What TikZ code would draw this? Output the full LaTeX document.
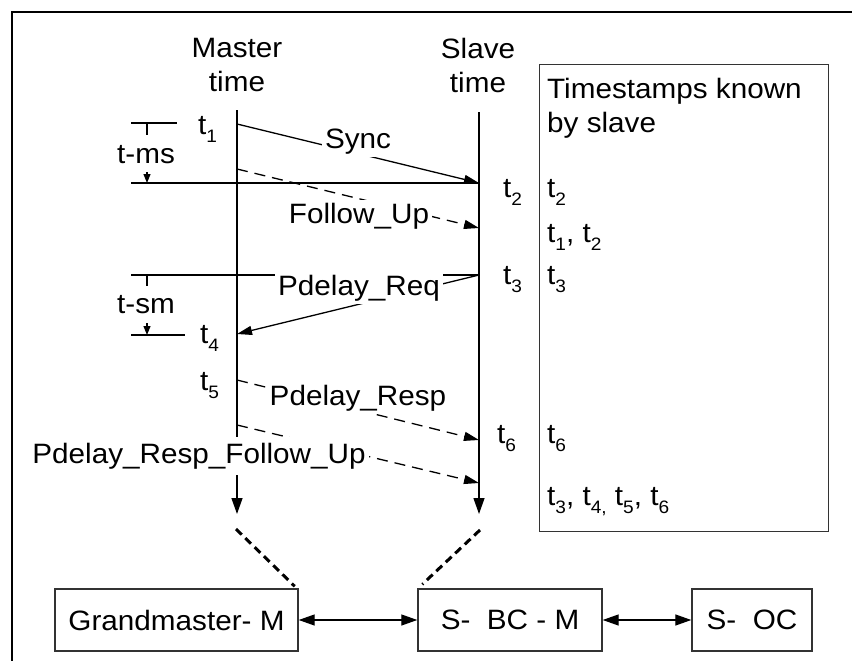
\documentclass[tikz,border=0pt]{standalone}
\usepackage{fontspec}
\setmainfont[FakeStretch=1.06]{Liberation Sans}
\usetikzlibrary{arrows.meta}
\newcommand\tsub[1]{\raisebox{-8pt}{\fontsize{18}{18}\selectfont #1}}
\begin{document}
\begin{tikzpicture}[x=1pt,y=-1pt,
  every node/.style={font=\fontsize{28}{34}\selectfont, inner sep=0pt},
  rule/.style={line width=1.3pt},
  timeline/.style={line width=1.3pt, -{Triangle[length=16pt,width=11pt]}},
  msg/.style={line width=1.3pt, -{Triangle[length=15pt,width=9pt]}},
  dmsg/.style={msg, dash pattern=on 11pt off 7pt},
  smallarrow/.style={line width=1.2pt, -{Triangle[length=9pt,width=7pt]}},
  lbl/.style={fill=white, inner xsep=3pt, inner ysep=3pt, anchor=base},
  ts/.style={anchor=base west},
  box/.style={draw=black!80, line width=1.4pt, minimum height=62pt},
  dbl/.style={line width=1.3pt, {Triangle[length=16pt,width=11pt]}-{Triangle[length=16pt,width=11pt]}},
  thickdash/.style={line width=3pt, dash pattern=on 8pt off 5pt}
]
\useasboundingbox (0,0) rectangle (852,661);
% frame
\draw[line width=2.2pt] (12,661) -- (12,12) -- (852,12);

% headers
\node[align=center, anchor=north] (mhead) at (237,38) {Master\\time};
\node[align=center, anchor=north] (shead) at (478,38) {Slave\\time};

% timestamps box
\node[draw=black!80, line width=1.4pt, minimum width=289pt, minimum height=467pt, anchor=north west] (tsbox) at (539,64) {};
\node[align=left, anchor=north west] (tsk) at (547,78) {Timestamps known\\by slave};

% timelines
\coordinate (mtop) at (237,110);
\coordinate (mbot) at (237,514);
\coordinate (stop) at (479,112);
\coordinate (sbot) at (479,514);
\draw[timeline] (mtop) -- (mbot);
\draw[timeline] (stop) -- (sbot);

% message points
\coordinate (t1m) at (237,124);
\coordinate (t2s) at (479,183);
\coordinate (fum) at (237,169);
\coordinate (fus) at (479,228);
\coordinate (t3s) at (479,275);
\coordinate (t4m) at (237,334);
\coordinate (t5m) at (237,380);
\coordinate (t6s) at (479,440);
\coordinate (prfm) at (237,425);
\coordinate (prfs) at (479,483);

% t-ms bracket
\coordinate (msa) at (131,123);
\coordinate (msb) at (177,123);
\coordinate (msc) at (131,183);
\coordinate (mst) at (147,123);
\coordinate (mstb) at (147,135);
\coordinate (msar) at (147,172);
\coordinate (msard) at (147,183);
\draw[rule] (msa) -- (msb);
\draw[rule] (mst) -- (mstb);
\draw[rule] (msc) -- (t2s);
\draw[smallarrow] (msar) -- (msard);

% t-sm bracket
\coordinate (sma) at (131,275);
\coordinate (smt) at (147,275);
\coordinate (smtb) at (147,286);
\coordinate (smar) at (147,323);
\coordinate (smard) at (147,335);
\coordinate (smb) at (131,335);
\coordinate (smc) at (185,335);
\draw[rule] (sma) -- (t3s);
\draw[rule] (smt) -- (smtb);
\draw[rule] (smb) -- (smc);
\draw[smallarrow] (smar) -- (smard);

% messages
\draw[msg] (t1m) -- (t2s);
\draw[dmsg] (fum) -- (fus);
\draw[msg] (t3s) -- (t4m);
\draw[dmsg] (t5m) -- (t6s);
\draw[dmsg] (prfm) -- (prfs);

% message labels
\node[lbl] (sync) at (358,148) {Sync};
\node[lbl] (fu) at (359,223) {Follow\_Up};
\node[lbl] (preq) at (359,295) {Pdelay\_Req};
\node[lbl] (presp) at (358,405) {Pdelay\_Resp};
\node[lbl, inner ysep=6pt] (prfu) at (199,463) {Pdelay\_Resp\_Follow\_Up};

% bracket labels
\node[anchor=base] (tms) at (146,163) {t-ms};
\node[anchor=base] (tsm) at (146,313) {t-sm};

% time labels
\node[ts] (lt1) at (198,135) {t\tsub{1}};
\node[ts] (lt4) at (200,343) {t\tsub{4}};
\node[ts] (lt5) at (200,390) {t\tsub{5}};
\node[ts] (lt2) at (503,197) {t\tsub{2}};
\node[ts] (lt3) at (503,284) {t\tsub{3}};
\node[ts] (lt6) at (497,443) {t\tsub{6}};

% known timestamps
\node[ts] (k2) at (547,197) {t\tsub{2}};
\node[ts] (k12) at (547,242) {t\tsub{1}, t\tsub{2}};
\node[ts] (k3) at (547,284) {t\tsub{3}};
\node[ts] (k6) at (547,443) {t\tsub{6}};
\node[ts] (k3456) at (547,505) {t\tsub{3}, t\tsub{4,} t\tsub{5}, t\tsub{6}};

% bottom boxes
\node[box, minimum width=243pt] (gm) at (176.5,620) {Grandmaster- M};
\node[box, minimum width=184pt] (sbc) at (510,620) {S-\ \ BC - M};
\node[box, minimum width=120pt] (soc) at (752,620) {S-\ \ OC};
\draw[dbl] (gm.east) -- (sbc.west);
\draw[dbl] (sbc.east) -- (soc.west);

% dashed links
\coordinate (gmd) at (236,529);
\coordinate (sbd) at (480,530);
\draw[thickdash] (gmd) -- ([shift={(-4,-2)}]gm.north east);
\draw[thickdash] (sbd) -- ([shift={(5,-4)}]sbc.north west);
\end{tikzpicture}
\end{document}
